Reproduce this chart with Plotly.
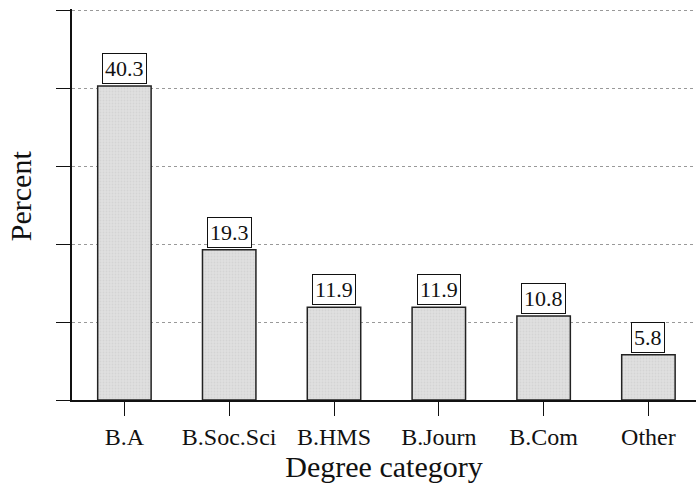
import plotly.graph_objects as go

categories = ["B.A", "B.Soc.Sci", "B.HMS", "B.Journ", "B.Com", "Other"]
percent = [40.3, 19.3, 11.9, 11.9, 10.8, 5.8]
y_ticks = [0, 10, 20, 30, 40, 50]

FONT = "Liberation Serif"

fig = go.Figure()
fig.add_trace(go.Bar(
    x=list(range(len(categories))),
    y=percent,
    width=0.51,
    marker=dict(color="#dadada", line=dict(color="#222222", width=1.5),
                pattern=dict(shape=".", fgcolor="#c8c8c8", bgcolor="#e0e0e0", size=3, solidity=0.3)),
    showlegend=False,
    hoverinfo="skip",
))

for i, v in enumerate(percent):
    fig.add_annotation(
        x=i, y=v, text=f"{v:.1f}", showarrow=False,
        yanchor="bottom", yshift=2,
        font=dict(family=FONT, size=22, color="#111111"),
        bordercolor="#111111", borderwidth=1, borderpad=2, bgcolor="white",
    )

fig.add_annotation(
    xref="paper", yref="paper", x=0, y=0.5225, xanchor="right", yanchor="middle",
    xshift=-33, text="Percent", textangle=-90, showarrow=False,
    font=dict(family=FONT, size=30, color="#111111"),
)

fig.update_layout(
    width=696, height=493,
    margin=dict(l=72, r=0, t=9, b=93),
    plot_bgcolor="white", paper_bgcolor="white",
    font=dict(family=FONT, color="#111111"),
)
fig.update_xaxes(
    range=[-0.5, 5.454],
    tickmode="array", tickvals=list(range(len(categories))), ticktext=categories,
    ticks="outside", ticklen=14, tickwidth=1.2, tickcolor="#111111",
    tickfont=dict(family=FONT, size=24, color="#111111"),
    showline=True, linecolor="#111111", linewidth=1.5,
    showgrid=False, zeroline=False,
    title=dict(text="Degree category", font=dict(family=FONT, size=30, color="#111111"), standoff=2),
)
fig.update_yaxes(
    range=[0, 50.2],
    tickmode="array", tickvals=y_ticks,
    showticklabels=False,
    ticks="outside", ticklen=14, tickwidth=1.2, tickcolor="#111111",
    showline=True, linecolor="#111111", linewidth=1.5,
    showgrid=True, gridcolor="#999999", gridwidth=1, griddash="dot",
    zeroline=False,
)

fig.write_html("out.html")
